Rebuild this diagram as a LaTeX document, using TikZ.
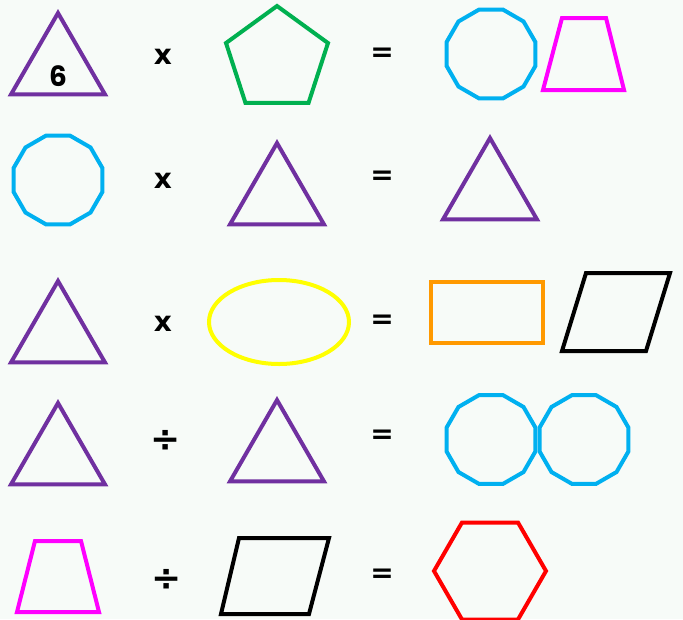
\documentclass[tikz,border=0pt]{standalone}
\usepackage{fontspec}
\setmainfont{Poppins}
\newfontfamily\signfont{DejaVu Sans}
\usetikzlibrary{shapes.geometric}
\definecolor{papertint}{HTML}{F7FBF8}
\definecolor{triviolet}{HTML}{7030A0}
\definecolor{pentgreen}{HTML}{00B050}
\definecolor{dodecyan}{HTML}{00B0F0}
\definecolor{trapmagenta}{HTML}{FF00FF}
\definecolor{ovalyellow}{HTML}{FFFF00}
\definecolor{rectorange}{HTML}{FF9900}
\definecolor{hexred}{HTML}{FF0000}
\begin{document}
\begin{tikzpicture}[x=0.75pt, y=-0.75pt, line join=miter,
  every node/.style={inner sep=0pt, outer sep=0pt},
  outline/.style={draw, line width=3pt},
  tri/.style={outline, draw=triviolet, regular polygon, regular polygon sides=3, minimum size=81.4pt},
  dodeca/.style={outline, draw=dodecyan, regular polygon, regular polygon sides=12, minimum size=69pt},
  sign/.style={font=\signfont\bfseries\fontsize{21}{21}\selectfont},
  divsign/.style={font=\signfont\bfseries\fontsize{27}{27}\selectfont}]
  \fill[papertint] (0,0) rectangle (683,619);
  \useasboundingbox (0,0) rectangle (683,619);
  % row 1
  \node[tri] (triA) at (58,67.3) {};
  \node[font=\bfseries\fontsize{21}{21}\selectfont] (six) at (58,76) {6};
  \node[sign] (timesA) at (163,57) {x};
  \node[outline, draw=pentgreen, regular polygon, regular polygon sides=5, minimum size=80.4pt] (penta) at (277,59.6) {};
  \node[sign] (eqA) at (382,55) {=};
  \node[dodeca] (dodA) at (491,54) {};
  \draw[outline, draw=trapmagenta] (562,18) -- (606,18) -- (624,90) -- (543,90) -- cycle;
  % row 2
  \node[dodeca] (dodB) at (58,180) {};
  \node[sign] (timesB) at (163,181) {x};
  \node[tri] (triB) at (277,197.3) {};
  \node[sign] (eqB) at (382,178) {=};
  \node[tri] (triC) at (490,192.3) {};
  % row 3
  \node[tri] (triD) at (58,335.3) {};
  \node[sign] (timesC) at (163,324) {x};
  \node[outline, draw=ovalyellow, ellipse, minimum width=105pt, minimum height=63pt] (oval) at (279,322) {};
  \node[sign] (eqC) at (382,322) {=};
  \draw[outline, draw=rectorange] (431,282) rectangle (543,343);
  \draw[outline] (586,273) -- (670,273) -- (646,351) -- (562,351) -- cycle;
  % row 4
  \node[tri] (triE) at (58,457.3) {};
  \node[divsign] (divA) at (166,441) {÷};
  \node[tri] (triF) at (277,454.3) {};
  \node[sign] (eqD) at (382,437) {=};
  \node[dodeca] (dodC) at (491,439.5) {};
  \node[dodeca] (dodD) at (584,439.5) {};
  % row 5
  \draw[outline, draw=trapmagenta] (35,541) -- (81,541) -- (99,612) -- (17,612) -- cycle;
  \node[divsign] (divB) at (167,580) {÷};
  \draw[outline] (239,538) -- (329,538) -- (309,614) -- (221,614) -- cycle;
  \node[sign] (eqE) at (382,576) {=};
  \node[outline, draw=hexred, regular polygon, regular polygon sides=6, minimum size=84pt] (hexa) at (490,571) {};
\end{tikzpicture}
\end{document}
